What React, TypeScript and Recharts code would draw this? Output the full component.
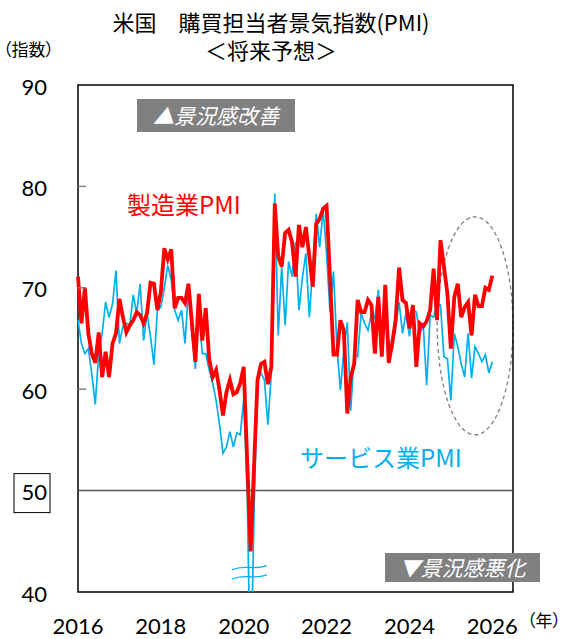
import React from "react";
import { LineChart, Line, XAxis, YAxis, ReferenceLine, ReferenceArea } from "recharts";

const FONT = "Lato, 'Noto Sans CJK JP', sans-serif";
const JP = "'Noto Sans CJK JP', Lato, sans-serif";

// monthly, Jan 2016 .. Jan 2026
const startYear = 2016;
const manufacturing = [
  71.1, 66.5, 70.0, 65.5, 63.5, 62.6, 65.6, 61.2, 63.7, 61.2,
  64.5, 65.5, 68.9, 67.1, 65.6, 66.3, 66.8, 67.6, 67.3, 66.5,
  67.5, 70.5, 70.4, 67.8, 69.6, 73.9, 72.8, 73.8, 68.0, 69.0,
  69.0, 68.5, 70.4, 66.5, 62.7, 69.4, 64.8, 68.0, 63.0, 61.2,
  61.9, 59.9, 57.4, 59.7, 60.9, 59.5, 59.7, 60.6, 62.2, 53.0,
  44.0, 52.5, 60.9, 62.5, 62.7, 60.5, 62.2, 78.3, 73.1, 72.1,
  75.4, 75.7, 74.5, 71.1, 76.2, 74.0, 76.0, 73.1, 70.1, 76.3,
  76.8, 77.8, 78.1, 71.0, 63.4, 63.4, 66.8, 65.8, 57.6, 61.2,
  62.5, 68.8, 67.6, 67.6, 68.8, 68.3, 63.5, 69.1, 63.2, 70.3,
  62.6, 64.5, 66.8, 72.0, 68.8, 68.5, 66.0, 68.3, 62.2, 66.5,
  66.2, 66.7, 67.8, 71.9, 66.8, 74.7, 72.1, 69.4, 64.0, 69.1,
  70.4, 67.1, 68.1, 68.6, 65.3, 69.3, 68.2, 68.2, 70.0, 69.8,
  71.2,
];
const services = [
  66.8, 64.5, 63.5, 64.0, 61.5, 58.5, 63.5, 65.5, 68.6, 67.1,
  68.4, 71.7, 64.5, 66.2, 66.5, 66.3, 69.3, 67.5, 70.4, 64.8,
  67.5, 65.2, 62.4, 67.8, 68.1, 70.0, 72.2, 70.8, 67.8, 66.8,
  67.8, 64.5, 69.8, 65.5, 62.0, 67.5, 63.5, 63.5, 61.9, 60.6,
  58.9, 56.5, 53.7, 54.3, 55.8, 54.3, 55.7, 55.5, 59.0, 50.0,
  30.0, 48.0, 60.9, 61.6, 60.9, 56.5, 61.6, 79.3, 65.3, 72.1,
  66.3, 72.6, 71.1, 74.5, 67.8, 71.0, 73.4, 67.1, 72.0, 77.3,
  74.0, 77.7, 73.4, 67.6, 71.6, 64.2, 59.9, 63.8, 66.6, 57.9,
  63.5, 63.2, 67.5, 66.5, 65.8, 67.5, 67.0, 69.8, 63.8, 66.5,
  65.0, 63.8, 66.1, 68.6, 65.5, 67.5, 65.2, 67.8, 67.6, 65.5,
  66.3, 60.4, 67.3, 67.1, 68.5, 68.3, 63.2, 63.0, 58.9, 65.5,
  64.2, 62.5, 61.2, 65.5, 61.1, 64.2, 63.5, 62.7, 63.4, 61.6,
  62.7,
];
const yearTicks = [2016, 2018, 2020, 2022, 2024, 2026];
const indexTicks = [40, 50, 60, 70, 80, 90];

const data = manufacturing.map((v, i) => ({ t: startYear + i / 12, mfg: v, svc: services[i] }));

function YTick({ x, y, payload }: any) {
  const v = payload.value;
  return (
    <g>
      {v > 40 && v < 90 && v !== 50 && (
        <line x1={x + 31} x2={x + 39} y1={y} y2={y} stroke="#808080" strokeWidth={1.5} />
      )}
      {v === 50 && <rect x={x - 33} y={y - 17} width={36} height={39} fill="#fff" stroke="#000" />}
      <text x={x} y={y + 1} textAnchor="end" dominantBaseline="central" fontSize={22} fontFamily={FONT} fill="#000">
        {v}
      </text>
    </g>
  );
}

function XTick({ x, y, payload }: any) {
  return (
    <text x={x} y={y} textAnchor="middle" dominantBaseline="central" fontSize={22} fontFamily={FONT} fill="#000">
      {payload.value}
    </text>
  );
}

function Ellipse(p: any) {
  return (
    <ellipse
      cx={p.x + p.width / 2}
      cy={p.y + p.height / 2}
      rx={p.width / 2}
      ry={p.height / 2}
      fill="none"
      stroke="#7f7f7f"
      strokeWidth={1.3}
      strokeDasharray="4 3"
    />
  );
}

function BreakMark(p: any) {
  const { x, y, width: w, height: h } = p;
  const wave = (dy: number) =>
    `M${x},${y + dy + h * 0.3} C${x + w * 0.35},${y + dy - h * 0.1} ${x + w * 0.6},${y + dy + h * 0.35} ${x + w},${y + dy}`;
  return (
    <g fill="none" stroke="#00B0F0" strokeWidth={1.3}>
      <path d={wave(0)} />
      <path d={wave(h * 0.65)} />
    </g>
  );
}

const abs = (extra: React.CSSProperties): React.CSSProperties => ({
  position: "absolute",
  whiteSpace: "nowrap",
  lineHeight: 1,
  ...extra,
});

const tagBox: React.CSSProperties = {
  background: "#808080",
  color: "#fff",
  fontSize: 21,
  fontStyle: "italic",
  fontFamily: JP,
  display: "flex",
  alignItems: "center",
  justifyContent: "center",
};

export default function App() {
  return (
    <div style={{ position: "relative", width: 565, height: 639, background: "#fff", fontFamily: FONT }}>
      <style>{"body{margin:0}"}</style>
      <LineChart width={565} height={639} data={data} margin={{ top: 85, right: 52, bottom: 0, left: 0 }}>
        <XAxis
          dataKey="t"
          type="number"
          domain={[2016, 2026.5]}
          ticks={yearTicks}
          axisLine={false}
          tickLine={false}
          tickSize={0}
          tickMargin={33}
          tick={<XTick />}
          height={47}
        />
        <YAxis
          domain={[40, 90]}
          ticks={indexTicks}
          allowDataOverflow
          axisLine={false}
          tickLine={false}
          tickSize={0}
          tickMargin={31}
          width={78}
          tick={<YTick />}
        />
        <ReferenceLine y={50} stroke="#595959" strokeWidth={1.5} />
        <ReferenceArea x1={2024.67} x2={2026.5} y1={55.5} y2={77} shape={<Ellipse />} ifOverflow="visible" />
        <Line type="linear" dataKey="svc" stroke="#00B0F0" strokeWidth={1.7} dot={false} isAnimationActive={false} />
        <Line type="linear" dataKey="mfg" stroke="#FF0000" strokeWidth={3.8} dot={false} isAnimationActive={false} />
        <ReferenceArea x1={2019.72} x2={2020.56} y1={41.2} y2={42.6} shape={<BreakMark />} ifOverflow="visible" />
        <ReferenceArea x1={2016} x2={2026.5} y1={40} y2={90} fill="none" fillOpacity={0} stroke="#000" strokeWidth={1.5} />
      </LineChart>

      <div
        style={{
          position: "absolute",
          left: 0,
          top: 7,
          width: 542,
          textAlign: "center",
          fontSize: 22,
          lineHeight: "28px",
          fontFamily: JP,
          whiteSpace: "nowrap",
        }}
      >
        米国　購買担当者景気指数(PMI)
        <br />
        ＜将来予想＞
      </div>
      <div style={abs({ left: 3, top: 40, fontSize: 17, fontFamily: JP, fontFeatureSettings: "'palt'" })}>（指数）</div>
      <div style={abs({ left: 527, top: 611, fontSize: 17, fontFamily: JP, fontFeatureSettings: "'palt'" })}>（年）</div>

      <div style={abs({ left: 127, top: 192, fontSize: 24, color: "#FF0000", fontFamily: JP })}>製造業PMI</div>
      <div style={abs({ left: 300, top: 445, fontSize: 24, color: "#00B0F0", fontFamily: JP })}>サービス業PMI</div>

      <div style={abs({ left: 137, top: 99, width: 158, height: 33, ...tagBox })}>▲景況感改善</div>
      <div style={abs({ left: 385, top: 553, width: 155, height: 29, ...tagBox })}>▼景況感悪化</div>
    </div>
  );
}
